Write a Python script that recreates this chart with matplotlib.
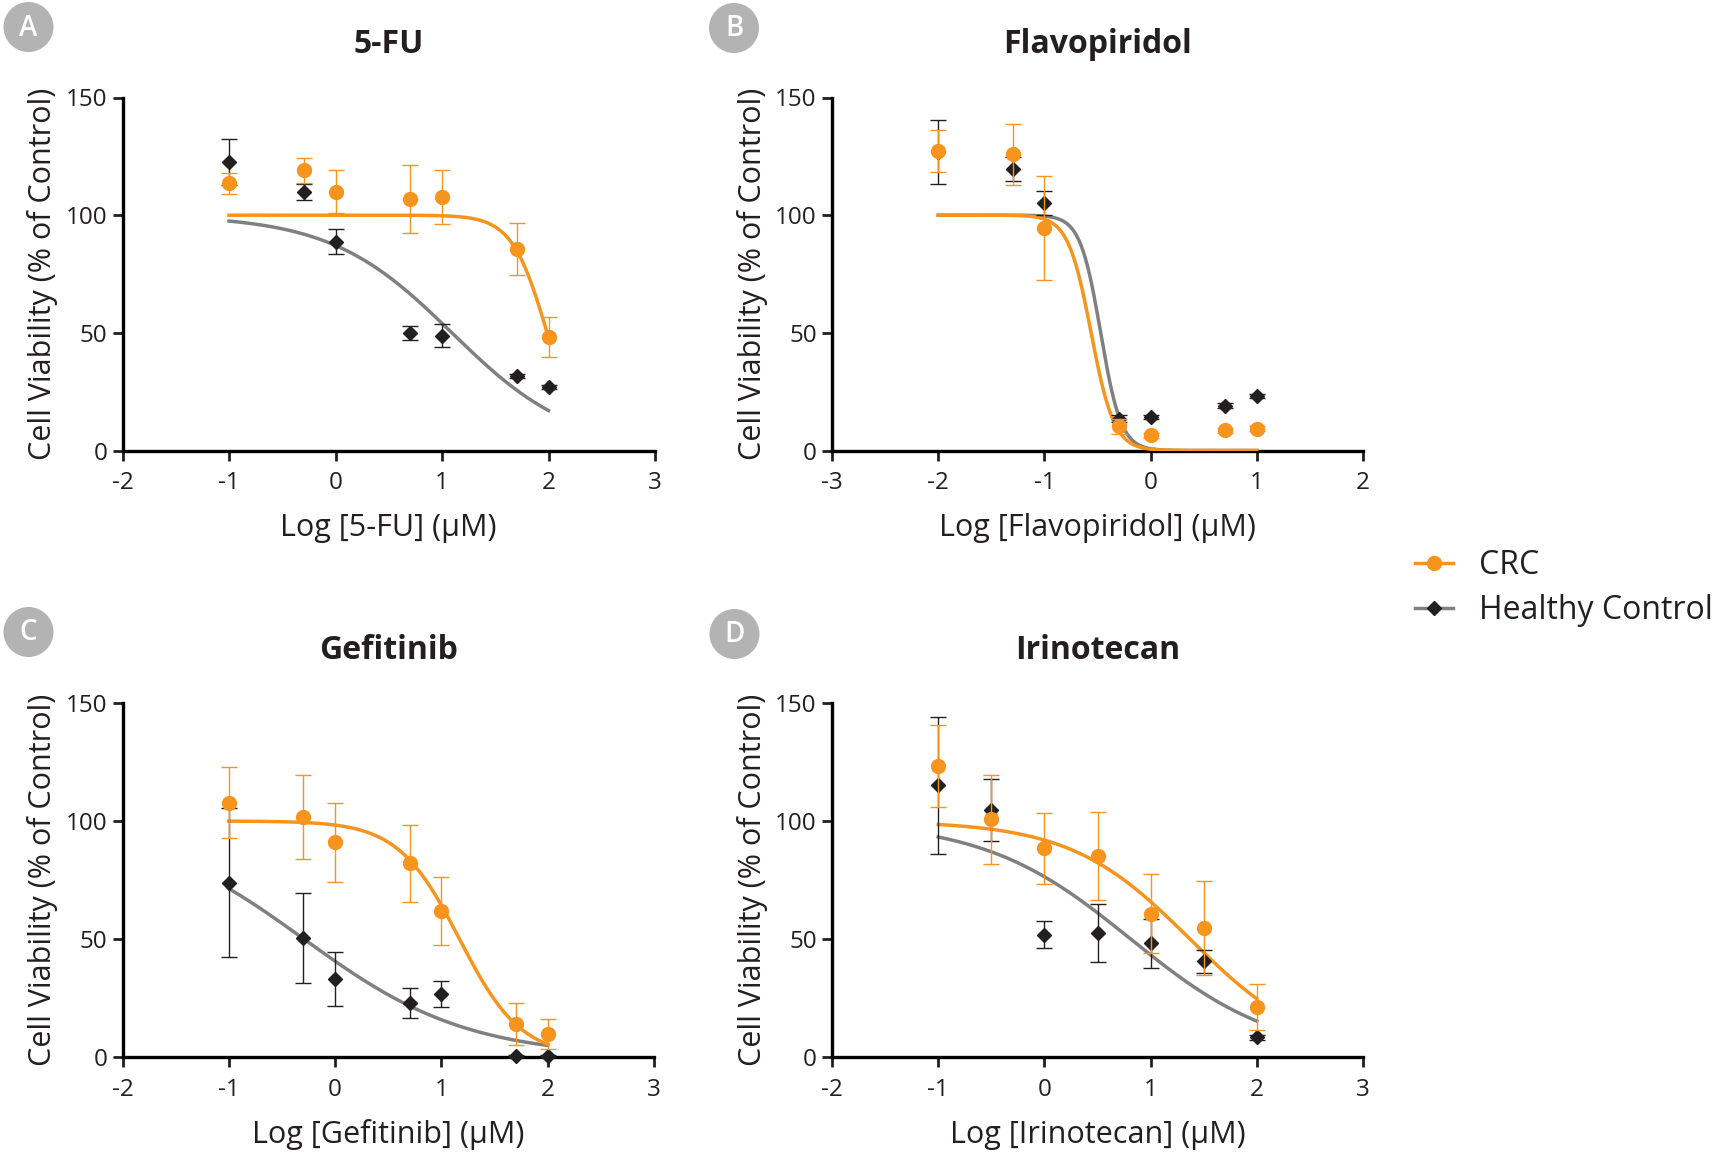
import numpy as np
import matplotlib
matplotlib.use("Agg")
import matplotlib.pyplot as plt
from matplotlib.lines import Line2D
from matplotlib.patches import Ellipse

plt.rcParams["font.family"] = ["Open Sans", "DejaVu Sans"]
plt.rcParams["axes.unicode_minus"] = False

ORANGE = "#F7941D"
GREY = "#808080"
DARK = "#231F20"

# --- data (log10 concentration in uM, viability in % of control) ---
fu_x = [-1, -0.3, 0, 0.7, 1, 1.7, 2]
fu_crc = [113.5, 119.0, 110.0, 107.0, 107.7, 85.5, 48.2]
fu_crc_err = [4.3, 5.4, 9.0, 14.5, 11.4, 11.0, 8.6]
fu_hc = [122.6, 109.7, 88.8, 50.1, 48.8, 31.6, 27.0]
fu_hc_err = [9.6, 3.4, 5.4, 3.0, 5.0, 1.0, 1.0]
fu_crc_fit = [1.987, 2.63]   # logIC50, hill
fu_hc_fit = [1.093, 0.76]

flavo_x = [-2, -1.3, -1, -0.3, 0, 0.7, 1]
flavo_crc = [127.1, 125.8, 94.5, 10.2, 6.4, 8.5, 9.3]
flavo_crc_err = [8.9, 13.0, 22.0, 3.0, 1.0, 1.0, 1.0]
flavo_hc = [126.8, 119.6, 105.1, 13.4, 14.2, 19.1, 23.1]
flavo_hc_err = [13.7, 5.0, 5.0, 1.5, 1.0, 1.0, 1.0]
flavo_crc_fit = [-0.56, 4.0]
flavo_hc_fit = [-0.47, 4.5]

gef_x = [-1, -0.3, 0, 0.7, 1, 1.7, 2]
gef_crc = [107.8, 101.6, 90.9, 82.0, 61.8, 14.0, 9.7]
gef_crc_err = [15.1, 17.8, 16.6, 16.2, 14.3, 8.8, 6.2]
gef_hc = [73.9, 50.4, 33.1, 22.9, 26.6, 0.5, 0.5]
gef_hc_err = [31.4, 19.0, 11.5, 6.4, 5.4, 0.5, 0.5]
gef_crc_fit = [1.17, 1.5]
gef_hc_fit = [-0.294, 0.562]

iri_x = [-1, -0.5, 0, 0.5, 1, 1.5, 2]
iri_crc = [123.3, 100.7, 88.5, 85.2, 60.7, 54.5, 21.1]
iri_crc_err = [17.4, 18.8, 15.1, 18.8, 16.7, 19.9, 9.7]
iri_hc = [115.1, 104.8, 51.9, 52.5, 48.1, 40.5, 8.4]
iri_hc_err = [29.0, 13.2, 5.9, 12.2, 10.4, 4.8, 1.0]
iri_crc_fit = [1.37, 0.77]
iri_hc_fit = [0.812, 0.628]

TOP, BOTTOM = 100.0, 0.0


def dose_response(x, fit):
    c, h = fit
    return BOTTOM + (TOP - BOTTOM) / (1 + 10 ** ((x - c) * h))


def draw_panel(ax, x, crc, crc_err, hc, hc_err, crc_fit, hc_fit, xlim, drug):
    xs = np.linspace(min(x), max(x), 300)
    ax.plot(xs, dose_response(xs, hc_fit), color=GREY, lw=2.5, zorder=2)
    ax.plot(xs, dose_response(xs, crc_fit), color=ORANGE, lw=2.5, zorder=3)

    ax.errorbar(x, hc, yerr=hc_err, fmt="none", ecolor=DARK, elinewidth=1.0,
                capsize=5.5, capthick=1.0, zorder=4, clip_on=False)
    ax.plot(x, hc, ls="none", marker="D", ms=7, color=DARK, zorder=5, clip_on=False)
    ax.errorbar(x, crc, yerr=crc_err, fmt="none", ecolor=ORANGE, elinewidth=1.0,
                capsize=5.5, capthick=1.0, zorder=6, clip_on=False)
    ax.plot(x, crc, ls="none", marker="o", ms=10, color=ORANGE, zorder=7, clip_on=False)

    ax.set_xlim(*xlim)
    ax.set_ylim(0, 150)
    ax.set_xticks(range(xlim[0], xlim[1] + 1))
    ax.set_yticks([0, 50, 100, 150])
    ax.spines["top"].set_visible(False)
    ax.spines["right"].set_visible(False)
    ax.spines["left"].set_linewidth(2.4)
    ax.spines["bottom"].set_linewidth(2.4)
    ax.tick_params(axis="both", length=7, width=2.0, color=DARK, labelsize=17.5,
                   labelcolor=DARK)
    ax.tick_params(axis="x", pad=8)
    ax.tick_params(axis="y", pad=4)
    ax.set_ylabel("Cell Viability (% of Control)", fontsize=22, color=DARK)
    ax.yaxis.set_label_coords(-0.15, 0.5)
    ax.yaxis.label.set_va("center")
    ax.set_xlabel(f"Log [{drug}] (μM)", fontsize=22, color=DARK)
    ax.xaxis.set_label_coords(0.5, -0.22)
    ax.xaxis.label.set_va("center")
    ax.set_title(drug, fontsize=23, fontweight="bold", color=DARK, pad=32)


W, H = 1736, 1159
fig = plt.figure(figsize=(W / 100, H / 100), dpi=100)


def px_axes(x0, x1, y0, y1):
    return fig.add_axes([x0 / W, 1 - y1 / H, (x1 - x0) / W, (y1 - y0) / H])


ax_a = px_axes(122.5, 655, 97.5, 450.5)
ax_b = px_axes(832, 1363, 97.5, 450.5)
ax_c = px_axes(122.5, 654, 703, 1057)
ax_d = px_axes(832, 1363, 703, 1057)

draw_panel(ax_a, fu_x, fu_crc, fu_crc_err, fu_hc, fu_hc_err,
           fu_crc_fit, fu_hc_fit, (-2, 3), "5-FU")
draw_panel(ax_b, flavo_x, flavo_crc, flavo_crc_err, flavo_hc, flavo_hc_err,
           flavo_crc_fit, flavo_hc_fit, (-3, 2), "Flavopiridol")
draw_panel(ax_c, gef_x, gef_crc, gef_crc_err, gef_hc, gef_hc_err,
           gef_crc_fit, gef_hc_fit, (-2, 3), "Gefitinib")
draw_panel(ax_d, iri_x, iri_crc, iri_crc_err, iri_hc, iri_hc_err,
           iri_crc_fit, iri_hc_fit, (-2, 3), "Irinotecan")

# panel letters in grey discs
for letter, cx, cy in [("A", 28.5, 27), ("B", 734, 28), ("C", 28.5, 632), ("D", 734.5, 634)]:
    fig.add_artist(Ellipse((cx / W, 1 - cy / H), 50 / W, 50 / H,
                           transform=fig.transFigure, color="#B3B3B3", lw=0))
    fig.text(cx / W, 1 - cy / H - 1 / H, letter, color="white", fontsize=20,
             fontweight="semibold", ha="center", va="center")

handles = [
    Line2D([], [], color=ORANGE, lw=2.5, marker="o", ms=10),
    Line2D([], [], color=GREY, lw=2.5, marker="D", ms=7, mfc=DARK, mec=DARK),
]
fig.legend(handles, ["CRC", "Healthy Control"], loc="center left",
           bbox_to_anchor=(1415 / W, 1 - 588 / H), frameon=False, fontsize=23,
           handlelength=1.2, handletextpad=0.8, labelspacing=0.38, borderpad=0,
           borderaxespad=0, labelcolor=DARK)

fig.savefig("out.png", dpi=100)
